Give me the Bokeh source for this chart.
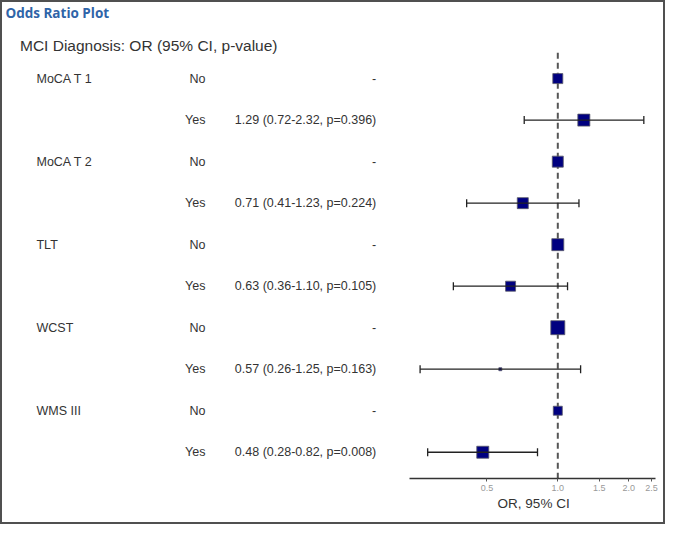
import math
from bokeh.plotting import figure
from bokeh.models import (Range1d, LinearScale, ColumnDataSource, Whisker, TeeHead,
                          FixedTicker, PrintfTickFormatter, Title)
from bokeh.core.properties import value
from bokeh.embed import file_html
from bokeh.resources import INLINE

# ---------------- data ----------------
variables = ["MoCA T 1", "MoCA T 2", "TLT", "WCST", "WMS III"]
levels = ["No", "Yes"]
reference_or = 1.0
odds_ratio = [1.29, 0.71, 0.63, 0.57, 0.48]
ci_lower = [0.72, 0.41, 0.36, 0.26, 0.28]
ci_upper = [2.32, 1.23, 1.10, 1.25, 0.82]
p_values = [0.396, 0.224, 0.105, 0.163, 0.008]
tick_values = [0.5, 1.0, 1.5, 2.0, 2.5]
header = "MCI Diagnosis: OR (95% CI, p-value)"
chart_title = "Odds Ratio Plot"
axis_title = "OR, 95% CI"

# marker box sizes (px) – style, kept apart from the data
box_no = [10, 11, 12, 14, 9]
box_yes = [12, 11, 10, 3, 12]

# ---------------- layout ----------------
BORDER = 2
W, H = 669 - 2 * BORDER, 528 - 2 * BORDER
SX, SY = W / 685.0, H / 544.0
AXIS_H = 48
FRAME_H = H - AXIS_H


def px(xr):
    return xr * SX


def py(yr):
    return yr * SY


ROW0, ROW_STEP = py(79), py(43.1)
X_ONE, X_PER_LN = 572.0, 105.3  # reference pixel position of OR=1 and px per ln unit

y_start = (FRAME_H - ROW0) / ROW_STEP
y_end = -ROW0 / ROW_STEP
x_start = math.exp((0 - X_ONE) / X_PER_LN)
x_end = math.exp((685 - X_ONE) / X_PER_LN)

# ---------------- sources ----------------
rows_y, rows_or, rows_sz, rows_lvl, rows_est = [], [], [], [], []
name_y, name_txt = [], []
yes_y, yes_lo, yes_hi = [], [], []
for k, var in enumerate(variables):
    r_no, r_yes = 2 * k, 2 * k + 1
    name_y.append(r_no)
    name_txt.append(var)
    rows_y += [r_no, r_yes]
    rows_or += [reference_or, odds_ratio[k]]
    rows_sz += [box_no[k], box_yes[k]]
    rows_lvl += levels
    rows_est += ["-", f"{odds_ratio[k]:.2f} ({ci_lower[k]:.2f}-{ci_upper[k]:.2f}, p={p_values[k]:.3f})"]
    yes_y.append(r_yes)
    yes_lo.append(ci_lower[k])
    yes_hi.append(ci_upper[k])

rows = ColumnDataSource(dict(y=rows_y, orv=rows_or, sz=rows_sz, lvl=rows_lvl, est=rows_est))
names = ColumnDataSource(dict(y=name_y, name=name_txt))
cis = ColumnDataSource(dict(y=yes_y, lo=yes_lo, hi=yes_hi))

# ---------------- figure ----------------
p = figure(width=W, height=H, output_backend="svg", toolbar_location=None,
           x_axis_type="log", y_axis_location=None,
           x_range=Range1d(x_start, x_end), y_range=Range1d(y_start, y_end),
           min_border=0, min_border_bottom=AXIS_H,
           styles={"border": f"{BORDER}px solid #505050"})
p.min_border_left = 0
p.min_border_right = 0
p.min_border_top = 0
p.outline_line_color = None
p.xgrid.visible = False
p.ygrid.visible = False
p.background_fill_color = "white"
p.border_fill_color = "white"

p.extra_x_ranges = {"px": Range1d(0, W)}
p.extra_x_scales = {"px": LinearScale()}
p.extra_y_ranges = {"py": Range1d(FRAME_H, 0)}
p.extra_y_scales = {"py": LinearScale()}

FONT = value("Liberation Sans")
TXT = "#333333"

# reference line at OR = 1
p.segment(x0=reference_or, y0=-0.62, x1=reference_or, y1=y_start,
          line_color="#555555", line_width=2, line_dash="6 4")

# confidence intervals
head_lo = TeeHead(size=8, line_color="#222222", line_width=1.3)
head_hi = TeeHead(size=8, line_color="#222222", line_width=1.3)
wh = Whisker(source=cis, base="y", lower="lo", upper="hi", dimension="width",
             line_color="#222222", line_width=1.3, lower_head=head_lo, upper_head=head_hi,
             level="glyph")
p.add_layout(wh)

# point estimates
p.scatter(x="orv", y="y", size="sz", marker="square", source=rows,
          fill_color="#000080", line_color="#5a5a6a", line_width=0.8)

# text columns
p.text(x=px(35), y="y", text="name", source=names, x_range_name="px",
       text_align="left", text_baseline="middle", text_font=FONT,
       text_font_size="12.5px", text_color=TXT)
p.text(x=px(209), y="y", text="lvl", source=rows, x_range_name="px",
       text_align="right", text_baseline="middle", text_font=FONT,
       text_font_size="12.5px", text_color=TXT)
p.text(x=px(385), y="y", text="est", source=rows, x_range_name="px",
       text_align="right", text_baseline="middle", text_font=FONT,
       text_font_size="12.5px", text_color=TXT)

# header and title
p.text(x=[px(18)], y=[py(45)], text=[header], x_range_name="px", y_range_name="py",
       text_align="left", text_baseline="middle", text_font=FONT,
       text_font_size="15.5px", text_color=TXT)
p.text(x=[px(3)], y=[py(11)], text=[chart_title], x_range_name="px", y_range_name="py",
       text_align="left", text_baseline="middle", text_font=value("Open Sans"),
       text_font_style="bold", text_font_size="13.5px", text_color="#2f64a8")

# x axis
ax = p.xaxis[0]
ax.bounds = (0.234, 2.6)
ax.ticker = FixedTicker(ticks=tick_values, minor_ticks=[])
ax.formatter = PrintfTickFormatter(format="%.1f")
ax.major_tick_in = 0
ax.major_tick_out = 3
ax.minor_tick_in = 0
ax.minor_tick_out = 0
ax.axis_line_color = "#333333"
ax.axis_line_width = 1.5
ax.major_tick_line_color = "#555555"
ax.major_label_text_font = "Liberation Sans"
ax.major_label_text_font_size = "9px"
ax.major_label_text_color = "#999999"
ax.major_label_standoff = 3

# axis title, centred under the axis line
p.add_layout(Title(text=axis_title, align="left", offset=px(510), standoff=0,
                   text_font="Liberation Sans", text_font_size="13.5px",
                   text_font_style="normal", text_color=TXT), "below")

open("out.html", "w").write(file_html(p, INLINE))
